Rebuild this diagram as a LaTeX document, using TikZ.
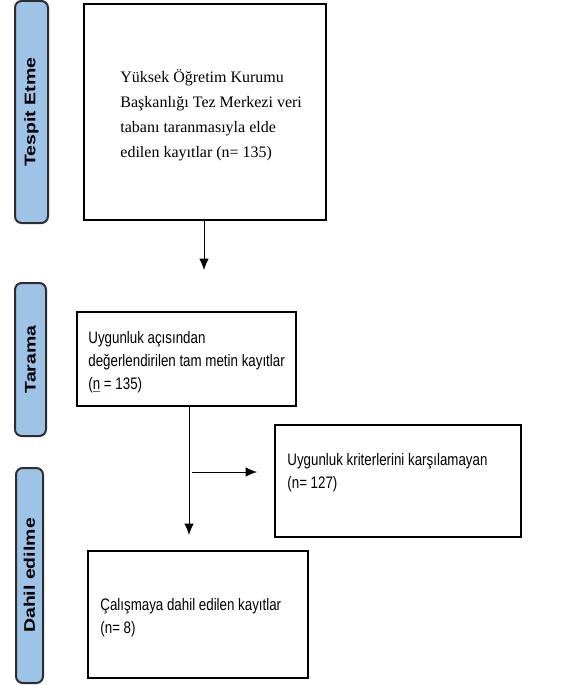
\documentclass[tikz,border=0pt]{standalone}
\usepackage{fontspec}
\setmainfont{Liberation Serif}
\newfontfamily\darsans[FakeStretch=0.8]{Liberation Sans}
\newfontfamily\kalinsans{Liberation Sans}
\usetikzlibrary{arrows.meta}
\definecolor{sekmemavi}{RGB}{157,195,230}
\definecolor{sekmekenar}{RGB}{45,45,45}
\definecolor{linkmavi}{RGB}{68,114,196}
\newcommand{\mavicizgi}[1]{\setbox0\hbox{#1}\rlap{\textcolor{linkmavi}{\rule[-2pt]{\wd0}{0.6pt}}}#1}

\begin{document}
\begin{tikzpicture}[
            > = {Latex[length=8.5pt,width=7pt]}, % arrow head style
            x = 0.75pt, y = -0.75pt, % one unit = one pixel of the reference
            semithick, % line style
            kutu/.style = {shape=rectangle, draw=black, line width=1.5pt},
            sekme/.style = {shape=rectangle, rounded corners=5pt, draw=sekmekenar, line width=1.5pt, fill=sekmemavi, rotate=90, font=\kalinsans\bfseries\fontsize{11.5}{13}\selectfont},
            yazi/.style = {anchor=base west, inner sep=0pt, align=left}
        ]
\useasboundingbox (0,0) rectangle (577,685);

\node[sekme, minimum width=166.5pt, minimum height=24.75pt] (Tespit) at (31.5,112) {\scalebox{1.27}[1]{Tespit Etme}};
\node[sekme, minimum width=114.75pt, minimum height=23.25pt] (Tarama) at (30.5,359.5) {\scalebox{1.27}[1]{Tarama}};
\node[sekme, minimum width=161.25pt, minimum height=20.25pt] (Dahil) at (29.5,575.5) {\scalebox{1.27}[1]{Dahil edilme}};

\node[kutu, minimum width=181.5pt, minimum height=162pt] (K) at (205,112) {};
\node[kutu, minimum width=164.25pt, minimum height=70.5pt] (U) at (186.5,359) {};
\node[kutu, minimum width=184.5pt, minimum height=84pt] (D) at (398,481) {};
\node[kutu, minimum width=165pt, minimum height=95.25pt] (C) at (198,614.5) {};

% base anchor sits on the last line
\node[yazi, font=\fontsize{12}{18.75}\selectfont] (Ky) at (120,157) {Yüksek Öğretim Kurumu\\ Başkanlığı Tez Merkezi veri\\ tabanı taranmasıyla elde\\ edilen kayıtlar (n= 135)};
\node[yazi, font=\darsans\fontsize{12.5}{17.25}\selectfont] (Uy) at (88,389) {Uygunluk açısından\\ değerlendirilen tam metin kayıtlar\\ (\mavicizgi{n} = 135)};
\node[yazi, font=\darsans\fontsize{12.5}{17.25}\selectfont] (Dy) at (287,488) {Uygunluk kriterlerini karşılamayan\\ (n= 127)};
\node[yazi, font=\darsans\fontsize{12.5}{17.25}\selectfont] (Cy) at (100,633) {Çalışmaya dahil edilen kayıtlar\\ (n= 8)};

\coordinate (Ka) at (204,270);
\coordinate (Ua) at (189,535);
\coordinate (Yb) at (192,472);
\coordinate (Ys) at (257,472);

 \path [->] (K.south -| Ka) edge (Ka);
 \path [->] (U.south -| Ua) edge (Ua);
 \path [->] (Yb) edge (Ys);
\end{tikzpicture}
\end{document}
